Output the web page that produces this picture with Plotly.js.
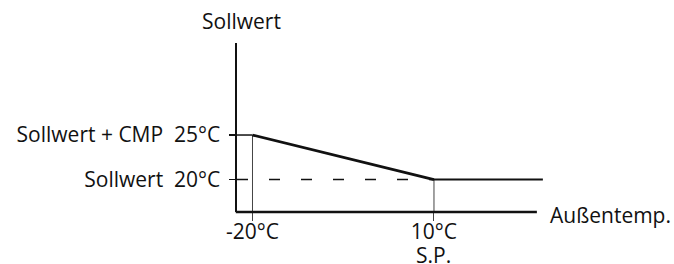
<!DOCTYPE html>
<html>
<head>
<meta charset="utf-8">
<script src="https://cdn.plot.ly/plotly-3.0.1.min.js"></script>
<style>html,body{margin:0;padding:0;background:#fff;}#chart{width:674px;height:264px;}</style>
</head>
<body>
<div id="chart"></div>
<script>
// Data
const curveX = [-20, 10, 28];
const curveY = [25, 20, 20];
const yTickVals = [25, 20];
const yTickText = ['Sollwert + CMP\u00a0\u00a025°C', 'Sollwert\u00a0\u00a020°C'];
const xTickVals = [-20, 10];
const xTickText = ['-20°C', '10°C'];
const xSubLabel = 'S.P.';
const yTitle = 'Sollwert';
const xTitle = 'Außentemp.';

const xRange = [-22.56, 28.02];
const yRange = [16.35, 35.34];
const font = {family: 'Open Sans, sans-serif', size: 21, color: '#111'};

const traces = [
  // guide verticals
  {x: [curveX[0], curveX[0]], y: [yRange[0], curveY[0]], mode: 'lines', line: {color: '#444', width: 1}},
  {x: [curveX[1], curveX[1]], y: [yRange[0], curveY[1]], mode: 'lines', line: {color: '#444', width: 1}},
  // guide horizontals
  {x: [xRange[0], curveX[0]], y: [curveY[0], curveY[0]], mode: 'lines', line: {color: '#111', width: 1.5}},
  {x: [xRange[0], curveX[1]], y: [curveY[1], curveY[1]], mode: 'lines', line: {color: '#111', width: 1.3, dash: '11px,21px'}},
  // curve
  {x: curveX.slice(0, 2), y: curveY.slice(0, 2), mode: 'lines', line: {color: '#111', width: 2.8}},
  {x: curveX.slice(1), y: curveY.slice(1), mode: 'lines', line: {color: '#111', width: 2}}
];

const layout = {
  width: 674, height: 264,
  margin: {l: 237, r: 131, t: 43, b: 52, pad: 0},
  paper_bgcolor: '#fff', plot_bgcolor: '#fff',
  showlegend: false,
  font: font,
  xaxis: {
    range: xRange, showgrid: false, zeroline: false, showline: false,
    tickvals: xTickVals, ticktext: xTickText,
    ticks: 'outside', ticklen: 8, tickwidth: 1, tickcolor: '#444',
    ticklabelstandoff: -7, tickfont: font
  },
  yaxis: {
    range: yRange, showgrid: false, zeroline: false, showline: true,
    linecolor: '#111', linewidth: 2.5,
    tickvals: yTickVals, ticktext: yTickText,
    ticks: 'outside', ticklen: 6, tickwidth: 1.5, tickcolor: '#111',
    ticklabelstandoff: 4, tickfont: font
  },
  shapes: [
    {type: 'line', xref: 'paper', yref: 'paper', x0: -0.004, x1: 0.98, y0: 0, y1: 0,
     line: {color: '#111', width: 2.5}}
  ],
  annotations: [
    {text: yTitle, xref: 'paper', yref: 'paper', x: 0.015, y: 1, yshift: 22,
     xanchor: 'center', yanchor: 'middle', showarrow: false, font: font},
    {text: xTitle, xref: 'paper', yref: 'paper', x: 1, xshift: 5, y: 0, yshift: -3,
     xanchor: 'left', yanchor: 'middle', showarrow: false, font: font},
    {text: xSubLabel, xref: 'x', yref: 'paper', x: xTickVals[1], y: 0, yshift: -43,
     xanchor: 'center', yanchor: 'middle', showarrow: false, borderpad: 0, font: font}
  ]
};

Plotly.newPlot('chart', traces, layout, {staticPlot: true, displayModeBar: false});
</script>
</body>
</html>
